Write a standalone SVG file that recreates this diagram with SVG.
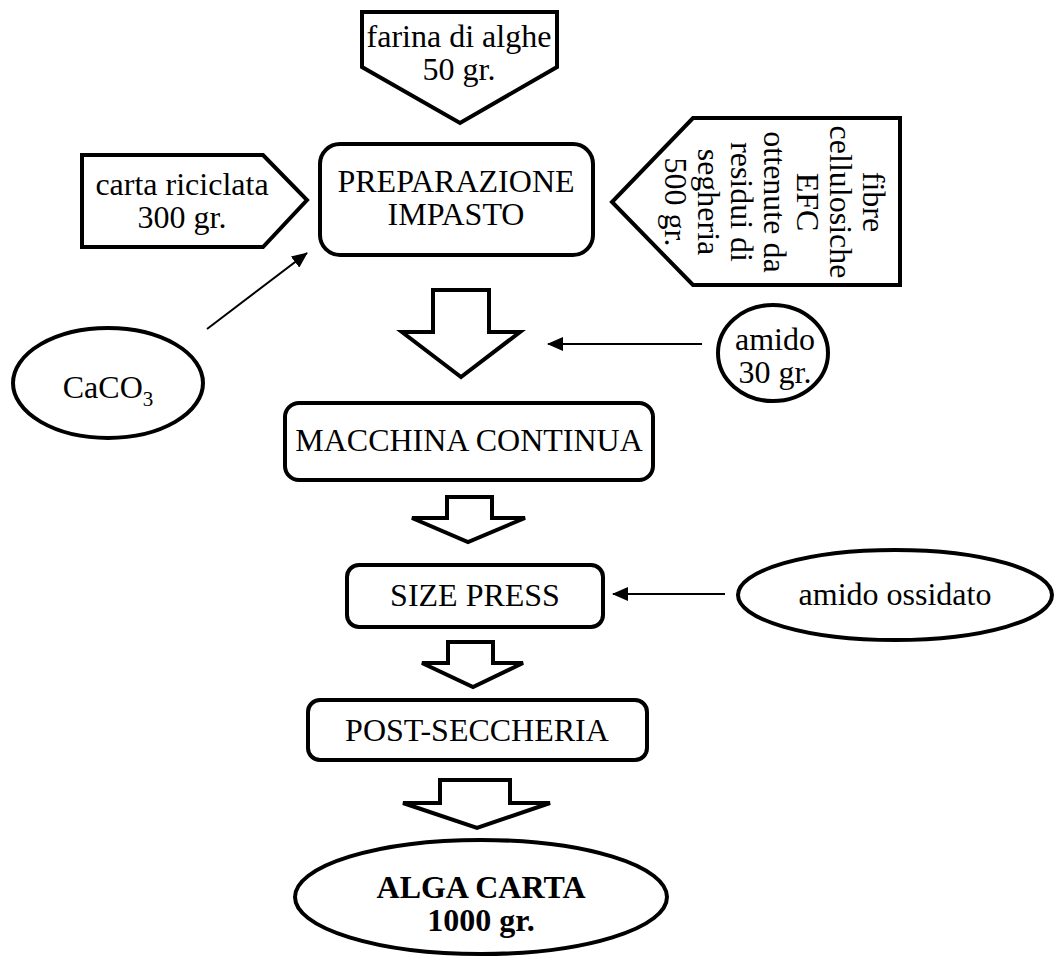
<svg xmlns="http://www.w3.org/2000/svg" width="1054" height="967" viewBox="0 0 1054 967">
  <style>
    .shape { fill: #ffffff; stroke: #000000; stroke-width: 4; stroke-linejoin: miter; }
    .txt { font-family: "Liberation Serif", "Times New Roman", serif; font-size: 32px; fill: #000000; text-anchor: middle; }
    .bold { font-weight: bold; }
    .conn { stroke: #000000; stroke-width: 2; fill: none; }
  </style>
  <defs>
    <marker id="head" markerUnits="userSpaceOnUse" markerWidth="16" markerHeight="14" refX="15" refY="7" orient="auto">
      <path d="M0,0 L16,7 L0,14 Z" fill="#000000"/>
    </marker>
  </defs>
  <rect width="1054" height="967" fill="#ffffff"/>

  <!-- input: farina di alghe -->
  <g id="farina">
    <polygon class="shape" points="362,12 557,12 557,67 460,123 362,67"/>
    <text class="txt" x="459" y="47">farina di alghe</text>
    <text class="txt" x="459" y="80">50 gr.</text>
  </g>

  <!-- input: carta riciclata -->
  <g id="carta">
    <polygon class="shape" points="82,155 263,155 307,200 263,247 82,247"/>
    <text class="txt" x="182" y="195">carta riciclata</text>
    <text class="txt" x="182" y="228">300 gr.</text>
  </g>

  <!-- process: preparazione impasto -->
  <g id="preparazione">
    <rect class="shape" x="320" y="144" width="273" height="111" rx="20" ry="20"/>
    <text class="txt" x="456" y="192">PREPARAZIONE</text>
    <text class="txt" x="456" y="225">IMPASTO</text>
  </g>

  <!-- input: fibre cellulosiche (vertical text) -->
  <g id="fibre">
    <polygon class="shape" points="693,118 900,118 900,285 693,285 612,202"/>
    <g transform="translate(863,202) rotate(90)">
      <text class="txt" x="0" y="0">fibre</text>
      <text class="txt" x="0" y="33">cellulosiche</text>
      <text class="txt" x="0" y="66">EFC</text>
      <text class="txt" x="0" y="99">ottenute da</text>
      <text class="txt" x="0" y="132">residui di</text>
      <text class="txt" x="0" y="165">segheria</text>
      <text class="txt" x="0" y="198">500 gr.</text>
    </g>
  </g>

  <!-- additive: CaCO3 -->
  <g id="caco3">
    <ellipse class="shape" cx="108" cy="383" rx="95" ry="55"/>
    <text class="txt" x="108" y="398">CaCO<tspan font-size="21px" dy="8">3</tspan></text>
  </g>

  <!-- additive: amido -->
  <g id="amido">
    <ellipse class="shape" cx="773" cy="353" rx="55" ry="48"/>
    <text class="txt" x="775" y="350">amido</text>
    <text class="txt" x="775" y="383">30 gr.</text>
  </g>

  <!-- process: macchina continua -->
  <g id="macchina">
    <rect class="shape" x="285" y="403" width="368" height="77" rx="14" ry="14"/>
    <text class="txt" x="469" y="451">MACCHINA CONTINUA</text>
  </g>

  <!-- process: size press -->
  <g id="sizepress">
    <rect class="shape" x="347" y="565" width="256" height="62" rx="12" ry="12"/>
    <text class="txt" x="475" y="606">SIZE PRESS</text>
  </g>

  <!-- additive: amido ossidato -->
  <g id="ossidato">
    <ellipse class="shape" cx="895" cy="595" rx="157" ry="45"/>
    <text class="txt" x="895" y="605">amido ossidato</text>
  </g>

  <!-- process: post-seccheria -->
  <g id="postseccheria">
    <rect class="shape" x="308" y="700" width="339" height="60" rx="12" ry="12"/>
    <text class="txt" x="477" y="741">POST-SECCHERIA</text>
  </g>

  <!-- product: alga carta -->
  <g id="algacarta">
    <ellipse class="shape" cx="481" cy="897" rx="186" ry="57"/>
    <text class="txt bold" x="481" y="898">ALGA CARTA</text>
    <text class="txt bold" x="481" y="931">1000 gr.</text>
  </g>

  <!-- connectors: block arrows and thin arrows -->
  <g id="connectors">
    <polygon class="shape" points="433,290 489,290 489,332 520,332 461,377 402,332 433,332"/>
    <polygon class="shape" points="447,497 492,497 492,518 525,518 468,542 412,518 447,518"/>
    <polygon class="shape" points="448,642 493,642 493,663 523,663 473,687 422,663 448,663"/>
    <polygon class="shape" points="440,780 510,780 510,803 550,803 477,828 403,803 440,803"/>
    <line class="conn" x1="207" y1="329" x2="307" y2="253" marker-end="url(#head)"/>
    <line class="conn" x1="702" y1="344" x2="548" y2="344" marker-end="url(#head)"/>
    <line class="conn" x1="725" y1="594" x2="613" y2="594" marker-end="url(#head)"/>
  </g>
</svg>
